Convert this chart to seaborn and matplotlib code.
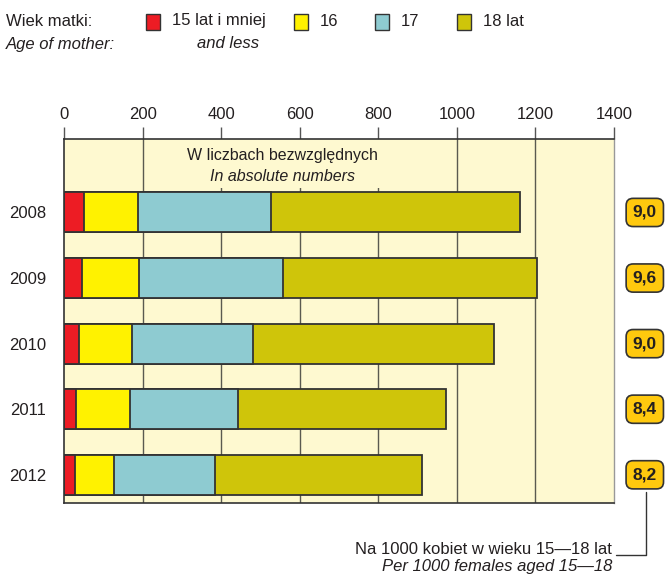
import matplotlib
matplotlib.use("Agg")
import matplotlib.pyplot as plt
import matplotlib.patches as mpatches
from matplotlib.lines import Line2D
import numpy as np
import pandas as pd
import seaborn as sns

# Births by age of mother
years = ["2008", "2009", "2010", "2011", "2012"]
age_15_less = [52, 45, 37, 30, 28]
age_16 = [137, 147, 137, 137, 98]
age_17 = [339, 365, 307, 276, 259]
age_18 = [632, 648, 613, 530, 527]
rate_per_1000 = ["9,0", "9,6", "9,0", "8,4", "8,2"]
x_ticks = [0, 200, 400, 600, 800, 1000, 1200, 1400]

series_names = ["15 lat i mniej", "16", "17", "18 lat"]
colors = ["#ED1C24", "#FFF200", "#8ECBD1", "#CFC50A"]
BG = "#FEF9D0"
DARK = "#231F20"
EDGE = "#333333"

sns.set_theme(style="white")
plt.rcParams["font.family"] = ["Liberation Sans", "DejaVu Sans"]

df = pd.DataFrame({"year": years, "a": age_15_less, "b": age_16, "c": age_17, "d": age_18})
cum = df[["a", "b", "c", "d"]].cumsum(axis=1)

fig = plt.figure(figsize=(6.65, 5.75), dpi=100)
W, H = 665, 575
ax = fig.add_axes([64 / W, 72 / H, 550 / W, 364 / H])
ax.set_facecolor(BG)

# gridlines behind the bars
for xv in x_ticks[1:-1]:
    ax.axvline(xv, color="#5a5a50", lw=1.0, zorder=0.5)

# clear panel behind the header text
ax.add_patch(mpatches.Rectangle((212, -1.12), 776, 0.75, fc=BG, ec="none", zorder=1))

# stacked bars: widest cumulative first, narrower on top
for col, colr in zip(["d", "c", "b", "a"], colors[::-1]):
    sns.barplot(x=cum[col], y=df["year"], orient="h", color=colr,
                width=0.61, edgecolor=EDGE, linewidth=1.3, saturation=1,
                ax=ax, zorder=2)

ax.set_xlim(0, 1400)
ax.set_ylim(4.43, -1.12)
ax.set_xlabel("")
ax.set_ylabel("")
ax.xaxis.tick_top()
ax.set_xticks(x_ticks)
ax.set_xticklabels([str(v) for v in x_ticks], fontsize=12, color=DARK)
ax.tick_params(axis="x", direction="out", length=9, width=1, color="#555555", pad=3)
ax.tick_params(axis="y", length=0, pad=13, labelsize=12, labelcolor=DARK)

for side in ["top", "left", "bottom"]:
    ax.spines[side].set_visible(True)
    ax.spines[side].set_color("#333333")
    ax.spines[side].set_linewidth(1.2)
ax.spines["right"].set_color("#999999")
ax.spines["right"].set_linewidth(1.0)

# header inside the plot
ax.text(555, -0.87, "W liczbach bezwzględnych", ha="center", va="center",
        fontsize=11.5, color=DARK, zorder=3)
ax.text(555, -0.55, "In absolute numbers", ha="center", va="center",
        fontsize=11.5, style="italic", color=DARK, zorder=3)

# rate badges to the right of the plot
trans = matplotlib.transforms.blended_transform_factory(ax.transAxes, ax.transData)
for i, r in enumerate(rate_per_1000):
    ax.text(1.056, i, r, transform=trans, ha="center", va="center",
            fontsize=12.5, fontweight="bold", color=DARK, clip_on=False,
            bbox=dict(boxstyle="round,pad=0.38,rounding_size=0.4",
                      fc="#FFC90E", ec="#333333", lw=1.2))

# connector to the rate note
fig.add_artist(Line2D([646 / W, 646 / W, 616 / W],
                      [(H - 492) / H, (H - 555) / H, (H - 555) / H],
                      color="#333333", lw=1.0))
fig.text(612 / W, (H - 549) / H, "Na 1000 kobiet w wieku 15—18 lat",
         ha="right", va="center", fontsize=12, color=DARK)
fig.text(612 / W, (H - 567) / H, "Per 1000 females aged 15—18",
         ha="right", va="center", fontsize=12, style="italic", color=DARK)

# legend
fig.text(6 / W, (H - 21) / H, "Wiek matki:", ha="left", va="center",
         fontsize=12, color=DARK)
fig.text(6 / W, (H - 44) / H, "Age of mother:", ha="left", va="center",
         fontsize=12, style="italic", color=DARK)
legend_x = [146, 294, 375, 457]
for lx, name, colr in zip(legend_x, series_names, colors):
    fig.add_artist(mpatches.Rectangle((lx / W, (H - 30) / H), 14 / W, 16 / H,
                                      fc=colr, ec="#333333", lw=1.0))
    fig.text((lx + 26) / W, (H - 21) / H, name, ha="left", va="center",
             fontsize=12, color=DARK)
fig.text(228 / W, (H - 44) / H, "and less", ha="center", va="center",
         fontsize=12, style="italic", color=DARK)

fig.savefig("out.png", dpi=100, facecolor="white")
